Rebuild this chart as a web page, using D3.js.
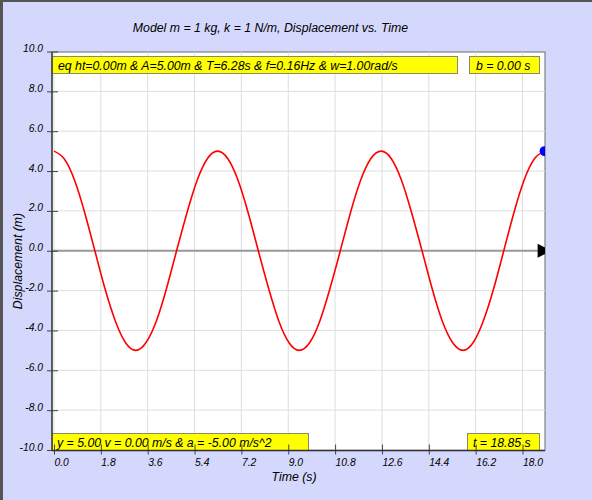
<!DOCTYPE html>
<html>
<head>
<meta charset="utf-8">
<script src="https://cdn.jsdelivr.net/npm/d3@7"></script>
<style>
  body { margin: 0; background: #d4d8fc; }
  svg { display: block; font-family: "Liberation Sans", Arial, sans-serif; font-style: italic; }
</style>
</head>
<body>
<div class="container"></div>
<script>
"use strict";

// values
const timeValues = [0, 0.39, 0.79, 1.18, 1.57, 1.96, 2.36, 2.75, 3.14, 3.53, 3.93, 4.32,
  4.71, 5.11, 5.50, 5.89, 6.28, 6.68, 7.07, 7.46, 7.85, 8.25, 8.64, 9.03, 9.42, 9.82,
  10.21, 10.60, 11.00, 11.39, 11.78, 12.17, 12.57, 12.96, 13.35, 13.74, 14.14, 14.53,
  14.92, 15.32, 15.71, 16.10, 16.49, 16.89, 17.28, 17.67, 18.06, 18.46, 18.85];
const displacement = [5, 4.62, 3.54, 1.91, 0, -1.91, -3.54, -4.62, -5, -4.62, -3.54, -1.91,
  0, 1.91, 3.54, 4.62, 5, 4.62, 3.54, 1.91, 0, -1.91, -3.54, -4.62, -5, -4.62,
  -3.54, -1.91, 0, 1.91, 3.54, 4.62, 5, 4.62, 3.54, 1.91, 0, -1.91, -3.54, -4.62,
  -5, -4.62, -3.54, -1.91, 0, 1.91, 3.54, 4.62, 5];
const xTicks = [0, 1.8, 3.6, 5.4, 7.2, 9.0, 10.8, 12.6, 14.4, 16.2, 18.0];
const yTicks = [-10, -8, -6, -4, -2, 0, 2, 4, 6, 8, 10];
const currentPoint = { t: 18.85, y: 5.0 };

const titleText = "Model m = 1 kg, k = 1 N/m, Displacement vs. Time";
const infoTop = "eq ht=0.00m & A=5.00m & T=6.28s & f=0.16Hz & w=1.00rad/s";
const infoB = "b = 0.00 s";
const infoBottom = "y = 5.00 v = 0.00 m/s & a = -5.00 m/s^2";
const infoT = "t = 18.85 s";

const makePlot = () => {
  const W = 592, H = 500;
  const plot = { left: 52, right: 545, top: 52, bottom: 450.5 };

  const x = d3.scaleLinear().domain([0, 18]).range([54, 522.5]);
  const y = d3.scaleLinear().domain([-10, 10]).range([450, 51.5]);

  const svg = d3.select(".container").append("svg")
    .attr("width", W).attr("height", H);

  svg.append("rect").attr("width", W).attr("height", H).attr("fill", "#d4d8fc");
  // dark frame on left and top
  svg.append("rect").attr("x", 0).attr("y", 0).attr("width", 3).attr("height", H).attr("fill", "#555");
  svg.append("rect").attr("x", 0).attr("y", 0).attr("width", W).attr("height", 2).attr("fill", "#555");

  svg.append("defs").append("clipPath").attr("id", "clip")
    .append("rect")
    .attr("x", plot.left).attr("y", plot.top)
    .attr("width", plot.right - plot.left).attr("height", plot.bottom - plot.top);

  svg.append("rect")
    .attr("x", plot.left).attr("y", plot.top)
    .attr("width", plot.right - plot.left).attr("height", plot.bottom - plot.top)
    .attr("fill", "#fff").attr("stroke", "#808080").attr("stroke-width", 1.2);

  const g = svg.append("g").attr("clip-path", "url(#clip)");

  // grid
  g.selectAll(".vgrid").data(xTicks).enter().append("line")
    .attr("x1", (d) => x(d)).attr("x2", (d) => x(d))
    .attr("y1", plot.top).attr("y2", plot.bottom)
    .attr("stroke", "#dedede").attr("stroke-width", 1);
  g.selectAll(".hgrid").data(yTicks).enter().append("line")
    .attr("x1", plot.left).attr("x2", plot.right)
    .attr("y1", (d) => y(d)).attr("y2", (d) => y(d))
    .attr("stroke", "#dedede").attr("stroke-width", 1);

  // zero line
  g.append("line")
    .attr("x1", plot.left).attr("x2", plot.right)
    .attr("y1", y(0)).attr("y2", y(0))
    .attr("stroke", "#999").attr("stroke-width", 2);

  // curve
  const line = d3.line()
    .x((d, i) => x(timeValues[i]))
    .y((d) => y(d))
    .curve(d3.curveNatural);
  g.append("path").datum(displacement)
    .attr("d", line)
    .attr("fill", "none").attr("stroke", "#ff0000").attr("stroke-width", 1.6);

  // current position marker + equilibrium arrow
  g.append("circle")
    .attr("cx", x(currentPoint.t)).attr("cy", y(currentPoint.y)).attr("r", 5)
    .attr("fill", "#0000ff");
  const tx = x(currentPoint.t);
  g.append("path")
    .attr("d", d3.line()([[tx - 7, y(0) - 7], [tx + 7, y(0)], [tx - 7, y(0) + 7]]) + "Z")
    .attr("fill", "#000");

  // info boxes
  const box = (x0, y0, w, h, txt, tx0) => {
    svg.append("rect").attr("x", x0).attr("y", y0).attr("width", w).attr("height", h)
      .attr("fill", "#ffff00").attr("stroke", "#8a8a6a").attr("stroke-width", 1);
    svg.append("text").attr("x", tx0).attr("y", y0 + 13)
      .attr("font-size", 12.3).attr("fill", "#000").text(txt);
  };
  box(52.5, 56.5, 405, 17, infoTop, 58);
  box(469.5, 56.5, 70, 17, infoB, 476);
  box(52.5, 433.5, 256, 17, infoBottom, 57);
  box(467.5, 433.5, 72, 17, infoT, 473);

  // axes
  const xAxis = d3.axisBottom(x).tickValues(xTicks).tickSize(4)
    .tickFormat((d) => d.toFixed(1));
  const xg = svg.append("g").attr("transform", "translate(0," + plot.bottom + ")").call(xAxis);
  xg.select(".domain").remove();
  xg.selectAll(".tick line").attr("y1", -6).attr("y2", 4).attr("stroke", "#444");
  xg.selectAll(".tick text").attr("y", 15).attr("dy", 0).attr("x", 0)
    .style("text-anchor", "start").attr("font-size", 10.3)
    .attr("font-family", null).attr("fill", "#000");

  const yAxis = d3.axisLeft(y).tickValues(yTicks).tickSize(5)
    .tickFormat((d) => d.toFixed(1));
  const yg = svg.append("g").attr("transform", "translate(" + plot.left + ",0)").call(yAxis);
  yg.select(".domain").remove();
  yg.selectAll(".tick line").attr("x1", -5).attr("x2", 6).attr("stroke", "#444");
  yg.selectAll(".tick text").attr("x", -9).attr("dy", 0).attr("font-size", 10.3)
    .attr("font-family", null).attr("fill", "#000");

  svg.append("line").attr("x1", plot.left).attr("x2", plot.left)
    .attr("y1", plot.top).attr("y2", plot.bottom).attr("stroke", "#333").attr("stroke-width", 1.3);
  svg.append("line").attr("x1", plot.left).attr("x2", plot.right)
    .attr("y1", plot.bottom).attr("y2", plot.bottom).attr("stroke", "#333").attr("stroke-width", 1.3);

  // titles
  svg.append("text").attr("x", 270.5).attr("y", 32).attr("text-anchor", "middle")
    .attr("font-size", 12.3).text(titleText);
  svg.append("text").attr("x", 294).attr("y", 481).attr("text-anchor", "middle")
    .attr("font-size", 12.3).text("Time (s)");
  svg.append("text").attr("transform", "translate(22,261) rotate(-90)")
    .attr("text-anchor", "middle").attr("font-size", 12.3).text("Displacement (m)");
};

makePlot();
</script>
</body>
</html>
